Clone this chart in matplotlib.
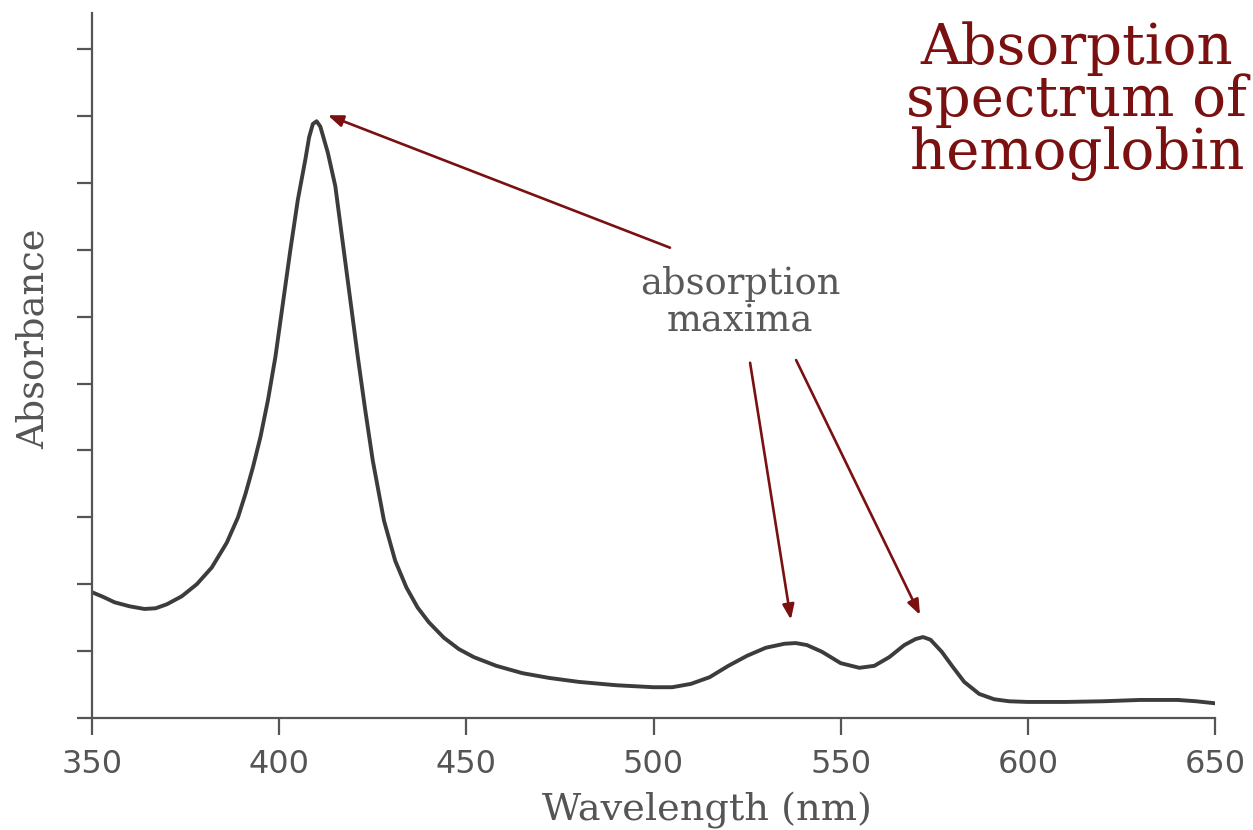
import matplotlib
matplotlib.use("Agg")
import matplotlib.pyplot as plt

# wavelength (nm) and absorbance (arbitrary units)
wavelength = [350, 353, 356, 360, 364, 367, 370, 374, 378, 382, 386, 389, 391, 393,
              395, 397, 399, 401, 403, 405, 407, 408, 409, 410, 411, 413, 415, 417,
              419, 421, 423, 425, 428, 431, 434, 437, 440, 444, 448, 452, 458, 465,
              472, 480, 490, 500, 505, 510, 515, 520, 525, 530, 535, 538, 541, 545,
              550, 555, 559, 563, 567, 570, 572, 574, 577, 580, 583, 587, 591, 595,
              600, 610, 620, 630, 640, 645, 650]
absorbance = [1.88, 1.81, 1.73, 1.67, 1.63, 1.64, 1.70, 1.82, 2.00, 2.25, 2.62, 3.00,
              3.35, 3.75, 4.20, 4.75, 5.40, 6.20, 7.00, 7.75, 8.35, 8.68, 8.88, 8.92,
              8.84, 8.45, 7.95, 7.10, 6.25, 5.40, 4.60, 3.85, 2.95, 2.35, 1.95, 1.65,
              1.43, 1.20, 1.03, 0.91, 0.78, 0.67, 0.60, 0.54, 0.49, 0.46, 0.46, 0.51,
              0.61, 0.78, 0.93, 1.05, 1.11, 1.12, 1.09, 0.99, 0.82, 0.75, 0.78, 0.91,
              1.09, 1.18, 1.21, 1.17, 0.99, 0.76, 0.54, 0.36, 0.28, 0.25, 0.24, 0.24,
              0.25, 0.27, 0.27, 0.25, 0.22]

x_ticks = [350, 400, 450, 500, 550, 600, 650]
y_ticks = list(range(0, 11))

# annotation arrows: (head, tail) in data coords
arrows = [((413.0, 9.01), (504.4, 7.03)),
          ((536.7, 1.47), (525.8, 5.31)),
          ((571.2, 1.54), (538.1, 5.35))]

grey = "#555555"
red = "#7a1010"

fig = plt.figure(figsize=(12.53, 8.30), dpi=100)
ax = fig.add_axes([92 / 1253, 1 - 718 / 830, (1215 - 92) / 1253, (718 - 13) / 830])

ax.plot(wavelength, absorbance, color="#3c3c3c", lw=2.8, solid_capstyle="round",
        solid_joinstyle="round")

ax.set_xlim(350, 650)
ax.set_ylim(0, (718 - 13) / 66.9)
ax.spines["top"].set_visible(False)
ax.spines["right"].set_visible(False)
for s in ("left", "bottom"):
    ax.spines[s].set_color(grey)
    ax.spines[s].set_linewidth(1.6)

ax.set_xticks(x_ticks)
ax.set_xticklabels([str(t) for t in x_ticks])
ax.set_yticks(y_ticks)
ax.set_yticklabels([])
ax.tick_params(axis="x", direction="out", length=12, width=1.6, color=grey,
               labelsize=23, labelcolor=grey, pad=10)
ax.tick_params(axis="y", direction="out", length=11, width=1.6, color=grey)

ax.set_xlabel("Wavelength (nm)", family="DejaVu Serif", fontsize=27.5, color=grey)
ax.xaxis.set_label_coords((707 - 92) / 1123, -(820 - 718) / 705, transform=ax.transAxes)
ax.xaxis.label.set_va("baseline")
ax.set_ylabel("Absorbance", family="DejaVu Serif", fontsize=26.5, color=grey)
ax.yaxis.set_label_coords(-(92 - 34) / 1123, (718 - 339) / 705, transform=ax.transAxes)
ax.yaxis.label.set_va("center")

for head, tail in arrows:
    ax.annotate("", xy=head, xytext=tail,
                arrowprops=dict(arrowstyle="-|>,head_length=0.9,head_width=0.35",
                                color=red, lw=1.9, shrinkA=0, shrinkB=0))

ax.text(523.1, (718 - 303) / 66.9, "absorption\nmaxima", family="DejaVu Serif",
        fontsize=26.5, color="#595959", ha="center", va="center", linespacing=1.05)

fig.text(1077 / 1253, 1 - 21 / 830, "Absorption\nspectrum of\nhemoglobin",
         family="DejaVu Serif", fontsize=40.5, color=red, ha="center", va="top",
         linespacing=0.95)

fig.savefig("out.png", dpi=100, facecolor="white")
